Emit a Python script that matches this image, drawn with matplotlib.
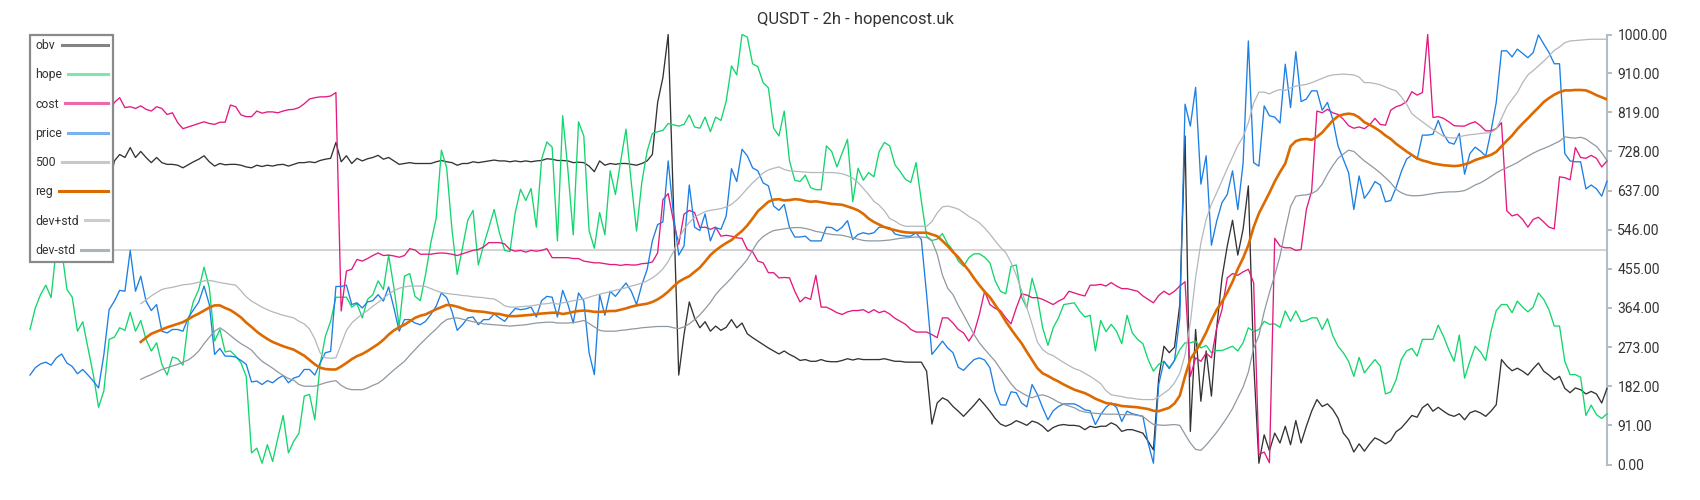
import numpy as np
import matplotlib
matplotlib.use("Agg")
import matplotlib.pyplot as plt
from matplotlib.legend_handler import HandlerLine2D
from matplotlib.textpath import TextPath
from matplotlib.font_manager import FontProperties

plt.rcParams['font.family'] = ['Roboto', 'DejaVu Sans']

nan = np.nan

# series values, one value per 2h candle (300 candles)
obv = [560, 575, 590, 585, 600, 610, 605, 615, 620, 610,
       625, 630, 620, 635, 640, 645, 706, 721, 714, 737,
       714, 728, 714, 702, 714, 702, 698, 698, 696, 690,
       697, 704, 710, 718, 704, 694, 700, 697, 698, 698,
       696, 692, 690, 696, 693, 696, 694, 697, 698, 694,
       698, 702, 702, 704, 702, 707, 710, 712, 749, 704,
       718, 700, 712, 706, 711, 714, 719, 710, 714, 706,
       698, 700, 702, 700, 700, 700, 700, 704, 707, 704,
       702, 696, 700, 700, 704, 702, 704, 706, 708, 706,
       706, 704, 706, 704, 706, 704, 706, 707, 711, 710,
       707, 707, 706, 702, 703, 702, 694, 681, 706, 696,
       700, 698, 700, 700, 698, 696, 700, 706, 721, 842,
       900, 1000, 603, 208, 302, 378, 341, 318, 332, 310,
       322, 312, 319, 337, 318, 329, 304, 295, 287, 279,
       271, 264, 257, 264, 256, 250, 242, 244, 240, 240,
       244, 240, 239, 239, 242, 246, 243, 246, 244, 244,
       244, 244, 246, 243, 240, 240, 238, 238, 238, 238,
       217, 94, 143, 155, 149, 135, 124, 112, 125, 138,
       153, 139, 124, 107, 94, 89, 94, 102, 97, 91,
       101, 97, 89, 77, 86, 91, 93, 91, 91, 89,
       81, 89, 86, 89, 89, 97, 91, 77, 81, 81,
       77, 73, 54, 34, 201, 275, 260, 273, 372, 764,
       77, 314, 147, 264, 159, 318, 434, 508, 568, 487,
       547, 648, 240, 3, 69, 32, 73, 50, 89, 46,
       102, 50, 89, 124, 151, 135, 141, 128, 108, 73,
       58, 29, 48, 31, 48, 62, 56, 48, 56, 76,
       85, 99, 114, 110, 132, 141, 124, 133, 124, 116,
       112, 118, 104, 120, 125, 120, 112, 124, 139, 244,
       229, 218, 224, 217, 208, 223, 236, 217, 208, 197,
       205, 177, 167, 178, 174, 164, 170, 164, 143, 177]

hope = [314, 364, 395, 417, 388, 505, 500, 407, 389, 310,
        332, 271, 209, 133, 171, 291, 296, 318, 312, 354,
        310, 335, 291, 264, 283, 233, 208, 250, 246, 231,
        333, 380, 407, 459, 411, 287, 314, 262, 264, 252,
        236, 205, 27, 38, 3, 46, 7, 62, 114, 27,
        54, 73, 159, 163, 104, 232, 298, 333, 389, 389,
        389, 366, 374, 341, 384, 395, 427, 407, 487, 411,
        322, 438, 444, 391, 381, 442, 516, 572, 731, 690,
        547, 442, 504, 568, 591, 464, 510, 551, 593, 539,
        498, 495, 586, 640, 614, 642, 552, 710, 750, 738,
        520, 811, 683, 534, 797, 764, 544, 503, 586, 534,
        683, 628, 706, 780, 656, 543, 656, 728, 770, 774,
        777, 793, 790, 787, 791, 813, 785, 782, 808, 774,
        808, 800, 845, 927, 906, 1000, 994, 932, 925, 888,
        876, 782, 764, 822, 706, 661, 658, 673, 644, 639,
        639, 741, 728, 692, 725, 756, 611, 689, 661, 679,
        669, 728, 749, 741, 697, 681, 663, 656, 702, 613,
        531, 521, 524, 537, 513, 498, 473, 461, 481, 490,
        490, 482, 469, 427, 403, 397, 461, 464, 389, 364,
        433, 389, 318, 277, 318, 341, 372, 374, 376, 357,
        343, 347, 264, 335, 309, 326, 310, 281, 347, 306,
        291, 281, 244, 217, 233, 240, 225, 242, 267, 283,
        283, 287, 271, 277, 260, 265, 265, 270, 275, 264,
        283, 318, 309, 314, 333, 326, 327, 319, 357, 333,
        357, 332, 335, 341, 341, 314, 339, 300, 275, 260,
        240, 205, 249, 213, 229, 244, 229, 164, 169, 197,
        244, 264, 270, 252, 291, 291, 291, 324, 298, 267,
        240, 301, 201, 240, 275, 262, 242, 309, 358, 372,
        372, 353, 380, 366, 355, 366, 399, 384, 360, 322,
        322, 240, 209, 209, 203, 114, 138, 116, 107, 118]

cost = [790, 800, 805, 798, 810, 815, 808, 800, 812, 818,
        810, 805, 800, 806, 810, 814, 842, 853, 830, 832,
        828, 834, 826, 822, 832, 828, 814, 818, 795, 781,
        785, 789, 793, 797, 793, 791, 796, 796, 836, 832,
        813, 809, 809, 822, 817, 820, 820, 818, 822, 825,
        826, 830, 839, 850, 853, 855, 855, 857, 865, 357,
        450, 454, 477, 473, 479, 486, 492, 486, 487, 485,
        482, 486, 502, 499, 489, 489, 489, 491, 492, 491,
        489, 486, 490, 494, 498, 500, 506, 516, 516, 516,
        513, 500, 496, 498, 494, 498, 496, 498, 502, 481,
        481, 481, 481, 479, 479, 473, 471, 469, 469, 467,
        465, 465, 463, 465, 464, 464, 467, 468, 471, 492,
        616, 630, 566, 512, 582, 591, 586, 551, 552, 547,
        552, 531, 533, 531, 527, 526, 500, 495, 473, 469,
        446, 446, 434, 435, 434, 403, 378, 389, 384, 440,
        366, 366, 360, 353, 349, 355, 358, 358, 360, 353,
        360, 353, 357, 350, 340, 333, 326, 314, 308, 308,
        308, 302, 295, 341, 341, 329, 314, 306, 287, 306,
        349, 403, 372, 363, 358, 341, 327, 364, 397, 394,
        388, 388, 384, 378, 372, 380, 386, 403, 399, 395,
        392, 417, 417, 419, 415, 423, 415, 409, 409, 406,
        403, 392, 384, 376, 393, 403, 395, 403, 415, 425,
        205, 248, 240, 259, 248, 318, 360, 434, 444, 440,
        448, 454, 423, 23, 29, 4, 526, 508, 504, 504,
        498, 500, 593, 636, 822, 818, 826, 818, 814, 803,
        788, 782, 785, 781, 790, 805, 791, 789, 824, 832,
        836, 844, 867, 859, 865, 1000, 807, 809, 805, 797,
        788, 787, 787, 793, 797, 788, 776, 776, 781, 795,
        590, 578, 582, 570, 552, 570, 575, 564, 552, 548,
        669, 667, 662, 737, 714, 712, 719, 712, 692, 706]

price = [208, 225, 234, 238, 231, 248, 257, 236, 228, 211,
         221, 208, 194, 178, 255, 360, 380, 405, 403, 498,
         403, 438, 380, 358, 372, 310, 306, 314, 314, 310,
         341, 360, 378, 415, 372, 256, 270, 252, 252, 250,
         242, 233, 192, 194, 186, 195, 190, 200, 207, 190,
         201, 205, 221, 221, 208, 236, 260, 263, 414, 414,
         417, 372, 376, 364, 378, 381, 395, 380, 413, 364,
         310, 337, 337, 329, 325, 333, 349, 368, 399, 388,
         356, 312, 325, 341, 343, 325, 337, 337, 350, 341,
         333, 349, 363, 360, 362, 366, 343, 381, 391, 389,
         343, 405, 372, 329, 399, 380, 260, 209, 395, 347,
         403, 391, 407, 422, 403, 372, 418, 453, 520, 558,
         564, 706, 582, 487, 508, 650, 552, 544, 583, 520,
         551, 547, 578, 688, 658, 733, 718, 690, 683, 655,
         648, 601, 591, 605, 551, 529, 529, 531, 520, 520,
         520, 552, 551, 543, 552, 567, 523, 535, 539, 536,
         539, 552, 552, 551, 536, 533, 531, 531, 539, 523,
         395, 256, 271, 287, 271, 260, 226, 219, 232, 244,
         248, 243, 225, 170, 139, 138, 169, 167, 143, 134,
         186, 163, 132, 104, 125, 135, 141, 141, 141, 135,
         127, 125, 93, 116, 133, 143, 133, 100, 124, 118,
         115, 112, 50, 3, 186, 240, 223, 242, 341, 838,
         787, 877, 652, 718, 510, 566, 609, 628, 683, 593,
         700, 985, 702, 694, 834, 811, 808, 794, 931, 830,
         960, 844, 850, 869, 869, 824, 842, 803, 741, 710,
         679, 593, 671, 619, 636, 658, 650, 611, 614, 644,
         681, 710, 720, 710, 766, 766, 768, 800, 768, 749,
         745, 770, 675, 723, 738, 729, 717, 775, 842, 962,
         962, 948, 966, 956, 946, 958, 999, 978, 958, 932,
         932, 723, 706, 704, 704, 641, 650, 641, 624, 659]

reg = [nan] * 21 + [
    285, 295, 304, 309, 314, 319, 323, 327, 331,
    338, 345, 351, 358, 365, 370, 370, 364, 359, 351,
    342, 330, 320, 309, 300, 292, 285, 280, 275, 271,
    267, 260, 253, 243, 233, 225, 222, 221, 221, 228,
    236, 245, 252, 257, 264, 272, 280, 290, 302, 312,
    319, 325, 333, 341, 346, 349, 355, 361, 366, 371,
    370, 367, 363, 359, 357, 356, 355, 353, 351, 350,
    347, 345, 345, 346, 347, 348, 350, 351, 352, 353,
    353, 350, 352, 355, 357, 358, 357, 355, 355, 356,
    357, 357, 360, 363, 367, 370, 372, 374, 378, 384,
    392, 402, 414, 425, 432, 438, 448, 458, 472, 487,
    498, 507, 515, 522, 533, 543, 556, 572, 589, 600,
    611, 616, 617, 614, 615, 617, 616, 613, 611, 612,
    610, 608, 606, 605, 604, 600, 596, 591, 583, 572,
    564, 558, 552, 548, 545, 542, 540, 539, 539, 539,
    539, 535, 531, 520, 508, 494, 482, 466, 451, 433,
    417, 402, 389, 371, 353, 333, 315, 298, 282, 262,
    243, 224, 212, 206, 199, 193, 186, 180, 174, 170,
    166, 160, 153, 148, 143, 141, 139, 136, 135, 134,
    133, 131, 129, 125, 124, 128, 132, 142, 160, 205,
    245, 263, 283, 307, 335, 360, 378, 400, 425, 455,
    480, 510, 552, 584, 608, 632, 658, 680, 700, 740,
    752, 756, 757, 755, 762, 772, 786, 800, 810, 814,
    816, 814, 807, 796, 790, 783, 775, 765, 757, 746,
    737, 728, 720, 712, 707, 704, 700, 698, 696, 695,
    694, 695, 698, 702, 708, 712, 716, 720, 727, 740,
    753, 765, 780, 793, 805, 818, 830, 843, 852, 860,
    866, 870, 870, 871, 871, 870, 865, 859, 854, 849]

dev_plus = [nan] * 21 + [
    374, 383, 392, 400, 407, 410, 412, 415, 418,
    419, 421, 424, 427, 428, 426, 423, 421, 419, 417,
    404, 390, 380, 373, 366, 360, 355, 351, 347, 344,
    341, 333, 327, 315, 292, 260, 248, 247, 248, 280,
    312, 329, 340, 350, 358, 368, 377, 387, 396, 404,
    410, 413, 415, 415, 415, 414, 409, 404, 400, 398,
    396, 395, 393, 392, 390, 389, 388, 386, 385, 378,
    369, 366, 366, 367, 368, 369, 371, 373, 374, 376,
    373, 376, 378, 381, 383, 385, 389, 393, 396, 399,
    402, 405, 408, 411, 415, 418, 422, 427, 434, 443,
    455, 472, 495, 525, 547, 563, 575, 582, 588, 591,
    593, 595, 599, 605, 615, 628, 642, 655, 666, 678,
    685, 689, 692, 686, 683, 682, 681, 680, 679, 679,
    679, 679, 679, 678, 676, 672, 666, 656, 642, 628,
    612, 603, 590, 572, 566, 558, 554, 554, 554, 554,
    554, 565, 585, 599, 601, 598, 594, 586, 577, 570,
    562, 550, 536, 520, 505, 493, 470, 440, 405, 365,
    326, 285, 267, 258, 253, 245, 237, 230, 223, 219,
    212, 205, 197, 188, 172, 162, 160, 158, 155, 154,
    152, 151, 151, 151, 157, 166, 175, 190, 212, 255,
    330, 435, 515, 570, 605, 632, 660, 688, 715, 742,
    762, 795, 840, 866, 866, 862, 868, 872, 870, 876,
    880, 882, 884, 888, 893, 898, 903, 906, 907, 908,
    907, 906, 901, 888, 888, 886, 883, 878, 873, 869,
    855, 838, 816, 806, 797, 788, 779, 771, 763, 760,
    759, 762, 765, 767, 768, 770, 771, 772, 780, 805,
    832, 849, 865, 888, 906, 916, 927, 938, 950, 963,
    971, 981, 985, 986, 987, 988, 989, 989, 989, 989]

dev_minus = [nan] * 21 + [
    198, 204, 209, 215, 221, 225, 229, 233, 238,
    243, 252, 264, 281, 296, 310, 318, 310, 300, 290,
    281, 274, 266, 252, 240, 232, 224, 215, 207, 200,
    196, 186, 182, 182, 182, 186, 190, 193, 195, 184,
    177, 174, 174, 174, 178, 184, 189, 198, 209, 220,
    230, 240, 254, 267, 280, 292, 304, 315, 328, 337,
    340, 341, 338, 335, 332, 330, 327, 326, 325, 324,
    323, 322, 323, 324, 325, 327, 329, 330, 331, 331,
    329, 329, 329, 330, 332, 335, 328, 320, 312, 310,
    310, 310, 312, 313, 315, 316, 318, 319, 320, 321,
    321, 321, 318, 316, 320, 327, 337, 348, 362, 377,
    395, 409, 421, 434, 449, 462, 477, 498, 518, 530,
    538, 544, 546, 548, 550, 551, 551, 549, 546, 542,
    540, 537, 535, 534, 533, 530, 527, 524, 521, 520,
    520, 520, 521, 522, 524, 526, 527, 528, 529, 529,
    528, 520, 489, 440, 410, 395, 370, 348, 325, 302,
    283, 268, 254, 240, 222, 205, 188, 174, 167, 160,
    155, 160, 162, 158, 152, 145, 140, 136, 132, 125,
    122, 120, 119, 118, 117, 117, 117, 116, 116, 116,
    114, 112, 102, 93, 92, 91, 92, 93, 91, 70,
    50, 35, 33, 45, 60, 75, 92, 110, 130, 155,
    180, 215, 270, 300, 355, 400, 440, 485, 545, 600,
    624, 626, 627, 630, 637, 652, 675, 695, 712, 722,
    731, 728, 717, 706, 697, 688, 678, 667, 655, 640,
    632, 627, 625, 625, 626, 628, 630, 632, 633, 634,
    634, 635, 637, 643, 650, 655, 662, 670, 678, 685,
    690, 696, 702, 710, 717, 724, 730, 735, 740, 746,
    752, 762, 760, 759, 761, 757, 748, 740, 725, 707]

level = 500
yticks = [0, 91, 182, 273, 364, 455, 546, 637, 728, 819, 910, 1000]
title = "QUSDT - 2h - hopencost.uk"


class StretchLine(HandlerLine2D):
    """legend line that fills the space left after its label"""
    def __init__(self, extra, alpha, **kw):
        super().__init__(**kw)
        self.extra = extra
        self.alpha = alpha

    def legend_artist(self, legend, orig_handle, fontsize, handlebox):
        handlebox.width += self.extra
        return super().legend_artist(legend, orig_handle, fontsize, handlebox)

    def update_prop(self, legend_handle, orig_handle, legend):
        super().update_prop(legend_handle, orig_handle, legend)
        legend_handle.set_linewidth(2.2)
        legend_handle.set_alpha(self.alpha)


fig = plt.figure(figsize=(17, 5), dpi=100)
ax = fig.add_axes([30 / 1700, 35.5 / 500, 1577 / 1700, 430 / 500])

lines = []
specs = [("obv", obv, "#333333", 0.95, 0.6),
         ("hope", hope, "#12d66c", 0.95, 0.55),
         ("cost", cost, "#e3197f", 0.95, 0.65),
         ("price", price, "#1c7fe3", 0.95, 0.6)]
for name, vals, color, lw, la in specs:
    ln, = ax.plot(np.arange(len(vals)), vals, color=color, lw=lw, label=name,
                  clip_on=False, zorder=3)
    lines.append((ln, la))

ln500 = ax.axhline(level, color="#c8c8c8", lw=1.1, label="500", zorder=2)
lines.append((ln500, 1.0))

ln, = ax.plot(np.arange(len(reg)), reg, color="#dd6a00", lw=1.9, label="reg", zorder=5)
lines.append((ln, 1.0))
ln, = ax.plot(np.arange(len(dev_plus)), dev_plus, color="#b2b8bd", lw=0.9,
              label="dev+std", zorder=4)
lines.append((ln, 0.7))
ln, = ax.plot(np.arange(len(dev_minus)), dev_minus, color="#8f99a2", lw=0.9,
              label="dev-std", zorder=4)
lines.append((ln, 0.75))

ax.set_xlim(0, len(price) - 1)
ax.set_ylim(0, 1000)
ax.set_xticks([])
ax.yaxis.tick_right()
ax.set_yticks(yticks)
ax.set_yticklabels([f"{t:.2f}" for t in yticks])
ax.tick_params(axis="y", length=3.5, width=1.4, color="#b4bcc4", pad=4,
               labelsize=10, labelcolor="#333333")
for side in ("left", "top", "bottom"):
    ax.spines[side].set_visible(False)
ax.spines["right"].set_color("#b4bcc4")
ax.spines["right"].set_linewidth(1.5)

# legend: label first, line stretched up to a common right edge
fs = 8.8
fp = FontProperties(family="Roboto", size=fs)
labels = [l.get_label() for l, _ in lines]
widths = [TextPath((0, 0), lab, prop=fp).get_extents().width for lab in labels]
wmax = max(widths)
hmap = {l: StretchLine(wmax - w, la) for (l, la), w in zip(lines, widths)}
leg = ax.legend([l for l, _ in lines], labels, loc="upper left",
                bbox_to_anchor=(0, 1), borderaxespad=0, markerfirst=False,
                fancybox=False, framealpha=1, edgecolor="#8a8a8a",
                fontsize=fs, labelspacing=1.33, handlelength=1.9,
                handletextpad=0.5, borderpad=0.38, handler_map=hmap,
                labelcolor="#333333")
leg.get_frame().set_linewidth(1.6)
leg.set_zorder(10)

fig.text(0.503, 1 - 19.5 / 500, title, ha="center", va="center",
         fontsize=12, color="#333333")

fig.savefig("out.png", dpi=100)
